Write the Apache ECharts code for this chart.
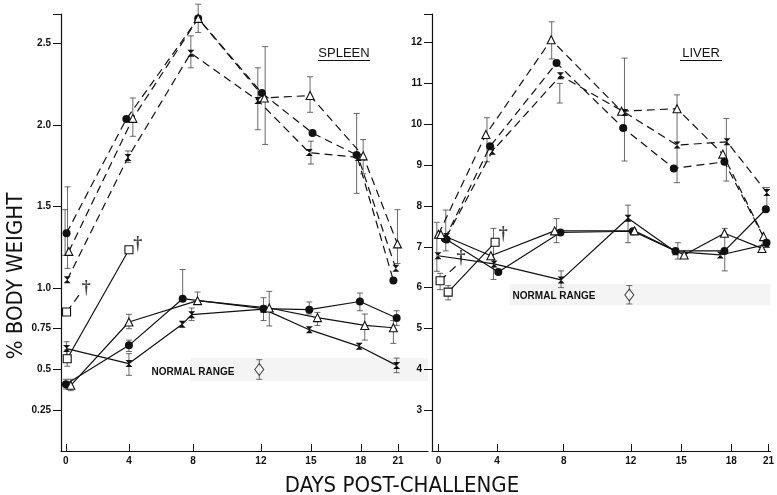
<!DOCTYPE html>
<html><head><meta charset="utf-8">
<script src="https://cdn.jsdelivr.net/npm/echarts@6/dist/echarts.min.js"></script>
<style>html,body{margin:0;padding:0;background:#fff}#c{width:777px;height:495px}</style>
</head><body><div id="c"></div>
<script>
// ---- axis tick data ----
const dayLabels = ['0','4','8','12','15','18','21'];
const spleenDayTicks = [0, 3.86, 7.78, 11.94, 15.0, 18.06, 20.33];
const liverDayTicks = [0, 3.62, 7.74, 11.89, 15.01, 18.1, 20.4];
const spleenYTicks = [0.25, 0.5, 0.75, 1.0, 1.5, 2.0, 2.5];
const spleenYLabels = ['0.25','0.5','0.75','1.0','1.5','2.0','2.5'];
const liverYTicks = [3,4,5,6,7,8,9,10,11,12];
const liverYLabels = ['3','4','5','6','7','8','9','10','11','12'];

// ---- SPLEEN series [day, % body weight] ----
const spleenCircleDash = [[0.04,1.336],[3.7,2.036],[8.1,2.653],[12.0,2.195],[15.1,1.95],[17.8,1.816],[20.05,1.046]];
const spleenTriDash    = [[0.18,1.224],[4.1,2.04],[8.1,2.653],[12.15,2.165],[14.95,2.18],[18.2,1.81],[20.3,1.27]];
const spleenCrossDash  = [[0.08,1.05],[3.8,1.80],[7.65,2.44],[11.75,2.15],[14.9,1.83],[17.9,1.80],[20.2,1.12]];
const spleenSquareDash = [[0.04,0.852],[0.86,0.964]];
const spleenSquareSolid= [[0.08,0.566],[3.86,1.234]];
const spleenCircleSolid= [[0.0,0.409],[3.86,0.648],[7.15,0.934],[12.1,0.873],[14.9,0.867],[18.0,0.917],[20.25,0.816]];
const spleenTriSolid   = [[0.3,0.403],[3.86,0.791],[8.06,0.922],[12.45,0.877],[15.4,0.818],[18.3,0.77],[20.05,0.756]];
const spleenCrossSolid = [[0.04,0.628],[3.86,0.536],[7.12,0.777],[7.7,0.836],[12.1,0.87],[14.9,0.744],[17.96,0.642],[20.25,0.525]];
const spleenDaggers    = [[1.25,1.0],[4.4,1.265]];
const spleenNormal     = [[11.84,0.50]];
const spleenNormalBand = [[7.6,0.43],[22.2,0.57]];
const spleenErr = [
  [0.1,1.12,1.62],[-0.05,1.2,1.48],[4.1,1.93,2.165],[3.8,1.77,1.84],
  [8.1,2.567,2.74],[7.65,2.35,2.546],[12.2,1.88,2.48],[11.75,1.97,2.35],
  [14.95,2.077,2.295],[15.0,1.76,1.90],[17.8,1.58,2.07],[18.2,1.7,1.91],[20.3,1.15,1.48],
  [0.08,0.52,0.62],[0.0,0.38,0.44],[0.04,0.59,0.67],[0.3,0.37,0.44],
  [3.86,0.75,0.838],[3.86,0.464,0.597],[3.86,0.61,0.68],
  [7.15,0.934,1.113],[8.06,0.9,0.975],[7.7,0.80,0.877],
  [12.45,0.767,0.979],[12.1,0.80,0.94],[14.9,0.84,0.914],[15.4,0.77,0.85],
  [18.0,0.86,0.969],[18.3,0.68,0.84],[20.25,0.77,0.86],[20.05,0.66,0.80],[20.25,0.48,0.57],
  [11.84,0.44,0.56]
];

// ---- LIVER series [day, % body weight] ----
const liverTriDash    = [[0.0,7.31],[2.93,9.75],[6.97,12.07],[11.32,10.32],[14.75,10.38],[17.58,9.27],[20.1,7.25]];
const liverCircleDash = [[0.4,7.2],[3.19,9.46],[7.3,11.5],[11.42,9.91],[14.55,8.92],[17.68,9.08],[20.28,7.1]];
const liverCrossDash  = [[0.5,7.25],[3.33,9.34],[7.54,11.19],[11.52,10.29],[14.75,9.49],[17.84,9.57],[20.3,8.33]];
const liverSquareDash = [[0.1,6.17],[1.12,6.54]];
const liverSquareSolid= [[0.6,5.89],[3.5,7.11]];
const liverCircleSolid= [[0.5,7.18],[3.7,6.38],[7.54,7.35],[12.02,7.38],[14.65,6.9],[17.68,6.9],[20.24,7.92]];
const liverTriSolid   = [[0.15,7.3],[3.24,6.78],[7.18,7.39],[12.12,7.39],[15.19,6.80],[17.68,7.33],[20.0,6.96]];
const liverCrossSolid = [[-0.03,6.78],[3.44,6.58],[7.58,6.19],[11.72,7.70],[14.65,6.88],[17.42,6.80],[20.3,7.06]];
const liverDaggers    = [[1.4,6.72],[4.0,7.3]];
const liverNormal     = [[11.8,5.82]];
const liverNormalBand = [[4.4,5.56],[20.6,6.09]];
const liverErr = [
  [-0.1,6.4,7.6],[0.45,6.9,7.9],[3.0,9.08,10.16],[7.0,11.6,12.51],[7.5,10.52,11.0],
  [11.5,9.1,11.62],[14.75,8.57,10.72],[17.8,8.61,10.14],[20.3,7.9,8.45],
  [7.3,7.1,7.69],[7.58,6.0,6.41],[11.72,7.1,8.02],[14.8,6.7,7.1],[17.7,6.41,7.45],
  [3.4,6.2,7.45],[0.6,5.7,6.05],[0.1,5.95,6.35],[11.8,5.6,6.05]
];

// ---- styles ----
const INK = '#111';
const HOUR = 'path://M0,0L10,0L0,10L10,10Z';
const markers = {
  circle: {symbol:'circle', size:8, fill:INK},
  tri:    {symbol:'triangle', size:8, fill:'#fff'},
  cross:  {symbol:HOUR, size:7, fill:INK},
  square: {symbol:'rect', size:8, fill:'#fff'}
};
function line(data, g, mk, dashed, bareEnd){
  const m = markers[mk];
  const d = data.map((p, i) => (bareEnd && i === data.length - 1) ? {value:p, symbol:'none'} : p);
  return {
    type:'line', data:d, xAxisIndex:g, yAxisIndex:g, z:3,
    symbol:m.symbol, symbolSize:m.size, showSymbol:true, animation:false,
    lineStyle:{color:INK, width:1.2, type: dashed ? [8,5] : 'solid'},
    itemStyle:{color:m.fill, borderColor:INK, borderWidth: m.fill === '#fff' ? 1.1 : 0}
  };
}
function errRender(params, api){
  const x = api.value(0), lo = api.value(1), hi = api.value(2);
  const a = api.coord([x, lo]), b = api.coord([x, hi]);
  const w = 3, st = {stroke:'#444', lineWidth:0.8};
  return {type:'group', children:[
    {type:'line', shape:{x1:a[0],y1:a[1],x2:b[0],y2:b[1]}, style:st},
    {type:'line', shape:{x1:a[0]-w,y1:a[1],x2:a[0]+w,y2:a[1]}, style:st},
    {type:'line', shape:{x1:b[0]-w,y1:b[1],x2:b[0]+w,y2:b[1]}, style:st}
  ]};
}
function errSeries(data, g){
  return {type:'custom', data, xAxisIndex:g, yAxisIndex:g, z:2, renderItem:errRender,
    encode:{x:0, y:[1,2]}, animation:false, silent:true};
}
function daggerSeries(data, g){
  return {type:'scatter', data, xAxisIndex:g, yAxisIndex:g, symbol:'circle', symbolSize:1, z:4, animation:false,
    itemStyle:{color:'rgba(0,0,0,0)'},
    label:{show:true, position:'inside', formatter:'†', color:INK, fontSize:18, fontWeight:'bold', fontFamily:'Liberation Serif'}};
}
function normalSeries(data, band, g){
  return {type:'scatter', data, xAxisIndex:g, yAxisIndex:g, symbol:'diamond', symbolSize:[9,12], z:4, animation:false,
    itemStyle:{color:'#fff', borderColor:INK, borderWidth:1},
    markArea:{silent:true, itemStyle:{color:'rgba(0,0,0,0.045)'},
      data:[[{coord:band[0]},{coord:band[1]}]]}};
}
const lblFont = {fontFamily:'Liberation Sans', fontWeight:'bold', fontSize:10, color:INK};
function xAxis(g, min, max, ticks){
  return {type:'value', gridIndex:g, min, max,
    axisLine:{show:true, onZero:false, lineStyle:{color:INK, width:1.2}},
    axisTick:{show:true, inside:true, length:7, customValues:ticks, lineStyle:{color:INK, width:1}},
    axisLabel:Object.assign({show:true, margin:5, customValues:ticks, hideOverlap:false,
      formatter:v => { const i = ticks.findIndex(t => Math.abs(t - v) < 1e-6); return i >= 0 ? dayLabels[i] : ''; }}, lblFont),
    splitLine:{show:false}};
}
function yAxis(g, min, max, ticks, labels, margin){
  return {type:'value', gridIndex:g, min, max,
    axisLine:{show:true, onZero:false, lineStyle:{color:INK, width:1.2}},
    axisTick:{show:true, inside:false, length:8, customValues:ticks.concat([max]), lineStyle:{color:INK, width:1}},
    axisLabel:Object.assign({show:true, margin, customValues:ticks,
      formatter:v => { const i = ticks.findIndex(t => Math.abs(t - v) < 1e-6); return i >= 0 ? labels[i] : ''; }}, lblFont),
    splitLine:{show:false}};
}

const chart = echarts.init(document.getElementById('c'), null, {renderer:'canvas'});
const narrow = '"Liberation Sans Narrow","DejaVu Sans Condensed","Liberation Sans",sans-serif';
chart.setOption({
  backgroundColor:'#fff',
  animation:false,
  grid:[
    {left:61, right:349, top:14, bottom:44},
    {left:432, right:0, top:14, bottom:44}
  ],
  xAxis:[ xAxis(0, -0.3, 22.17, spleenDayTicks), xAxis(1, -0.4, 20.53, liverDayTicks) ],
  yAxis:[ yAxis(0, 0, 2.68, spleenYTicks, spleenYLabels, 10), yAxis(1, 2, 12.7, liverYTicks, liverYLabels, 10) ],
  series:[
    errSeries(spleenErr, 0),
    line(spleenCircleDash, 0, 'circle', true),
    line(spleenTriDash, 0, 'tri', true),
    line(spleenCrossDash, 0, 'cross', true),
    line(spleenSquareDash, 0, 'square', true, true),
    line(spleenSquareSolid, 0, 'square', false),
    line(spleenCircleSolid, 0, 'circle', false),
    line(spleenTriSolid, 0, 'tri', false),
    line(spleenCrossSolid, 0, 'cross', false),
    daggerSeries(spleenDaggers, 0),
    normalSeries(spleenNormal, spleenNormalBand, 0),
    errSeries(liverErr, 1),
    line(liverTriDash, 1, 'tri', true),
    line(liverCircleDash, 1, 'circle', true),
    line(liverCrossDash, 1, 'cross', true),
    line(liverSquareDash, 1, 'square', true, true),
    line(liverSquareSolid, 1, 'square', false),
    line(liverCircleSolid, 1, 'circle', false),
    line(liverTriSolid, 1, 'tri', false),
    line(liverCrossSolid, 1, 'cross', false),
    daggerSeries(liverDaggers, 1),
    normalSeries(liverNormal, liverNormalBand, 1)
  ],
  graphic:[
    {type:'text', x:16, y:276, rotation:Math.PI/2,
      style:{text:'% BODY WEIGHT', font:'22px '+narrow, fill:INK, align:'center', verticalAlign:'middle', textAlign:'center', textVerticalAlign:'middle'}},
    {type:'text', x:402, y:486,
      style:{text:'DAYS POST-CHALLENGE', font:'22px '+narrow, fill:INK, align:'center', verticalAlign:'middle', textAlign:'center', textVerticalAlign:'middle'}},
    {type:'text', x:344, y:53,
      style:{text:'SPLEEN', font:'13px "Liberation Sans"', fill:INK, align:'center', verticalAlign:'middle', textAlign:'center', textVerticalAlign:'middle'}},
    {type:'line', shape:{x1:318, y1:60.5, x2:370, y2:60.5}, style:{stroke:INK, lineWidth:1}},
    {type:'text', x:701, y:53,
      style:{text:'LIVER', font:'13px "Liberation Sans"', fill:INK, align:'center', verticalAlign:'middle', textAlign:'center', textVerticalAlign:'middle'}},
    {type:'line', shape:{x1:680, y1:60.5, x2:722, y2:60.5}, style:{stroke:INK, lineWidth:1}},
    {type:'text', x:193, y:372,
      style:{text:'NORMAL RANGE', font:'bold 10px "Liberation Sans"', fill:INK, align:'center', verticalAlign:'middle', textAlign:'center', textVerticalAlign:'middle'}},
    {type:'text', x:554, y:296,
      style:{text:'NORMAL RANGE', font:'bold 10px "Liberation Sans"', fill:INK, align:'center', verticalAlign:'middle', textAlign:'center', textVerticalAlign:'middle'}}
  ]
});
</script></body></html>
